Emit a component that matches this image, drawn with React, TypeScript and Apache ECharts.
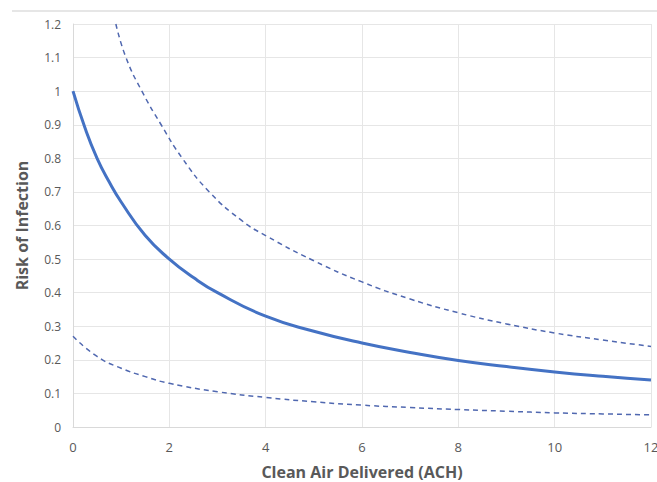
import React, { useEffect, useRef } from "react";
import * as echarts from "echarts";

const xName = "Clean Air Delivered (ACH)";
const yName = "Risk of Infection";

const mainX = [0, 0.25, 0.5, 0.75, 1, 1.5, 2, 2.5, 3, 4, 5, 6, 7, 8, 9, 10, 11, 12];
const mainY = [1.0, 0.89, 0.8, 0.73, 0.67, 0.57, 0.5, 0.445, 0.4, 0.33, 0.285, 0.25, 0.222, 0.198, 0.18, 0.164, 0.151, 0.14];

const upperX = [0.89, 1.1, 1.43, 1.83, 2.27, 2.83, 3.5, 4, 5, 6, 7, 8, 9, 10, 11, 12];
const upperY = [1.2, 1.1, 1.0, 0.9, 0.8, 0.7, 0.615, 0.57, 0.495, 0.432, 0.381, 0.34, 0.307, 0.28, 0.259, 0.24];

const lowerX = [0, 0.5, 1, 1.5, 2, 3, 4, 5, 6, 7, 8, 9, 10, 11, 12];
const lowerY = [0.27, 0.21, 0.175, 0.15, 0.13, 0.105, 0.088, 0.075, 0.065, 0.058, 0.052, 0.047, 0.042, 0.039, 0.036];

const pairs = (xs: number[], ys: number[]) => xs.map((x, i) => [x, ys[i]]);

export default function App() {
  const ref = useRef<HTMLDivElement>(null);
  useEffect(() => {
    if (!ref.current) return;
    const chart = echarts.init(ref.current, null, { renderer: "svg" });
    const font = "'Open Sans', 'Noto Sans', sans-serif";
    chart.setOption({
      animation: false,
      backgroundColor: "#ffffff",
      textStyle: { fontFamily: font },
      graphic: [
        {
          type: "line",
          shape: { x1: 12, y1: 11, x2: 657, y2: 11 },
          style: { stroke: "#e6e6e6", lineWidth: 2 },
        },
      ],
      grid: { left: 73, right: 6, top: 24, bottom: 55, containLabel: false, outerBoundsMode: "none" },
      xAxis: {
        type: "value",
        min: 0,
        max: 12,
        interval: 2,
        name: xName,
        nameLocation: "middle",
        nameGap: 37,
        nameTextStyle: { fontSize: 16, fontWeight: "bold", color: "#595959", fontFamily: font },
        axisLine: { show: true, lineStyle: { color: "#d9d9d9", width: 1 } },
        axisTick: { show: false },
        axisLabel: { color: "#595959", fontSize: 13, margin: 13, fontFamily: font },
        splitLine: { show: true, lineStyle: { color: "#e6e6e6", width: 1 } },
      },
      yAxis: {
        type: "value",
        min: 0,
        max: 1.2,
        interval: 0.1,
        name: yName,
        nameLocation: "middle",
        nameGap: 43,
        nameTextStyle: { fontSize: 16, fontWeight: "bold", color: "#595959", fontFamily: font },
        axisLine: { show: true, lineStyle: { color: "#d9d9d9", width: 1 } },
        axisTick: { show: false },
        axisLabel: {
          color: "#595959",
          fontSize: 12,
          margin: 12,
          fontFamily: font,
          formatter: (v: number) => String(parseFloat(v.toFixed(1))),
        },
        splitLine: { show: true, lineStyle: { color: "#e6e6e6", width: 1 } },
      },
      series: [
        {
          type: "line",
          data: pairs(mainX, mainY),
          smooth: 0.5,
          showSymbol: false,
          lineStyle: { color: "#4472c4", width: 3 },
        },
        {
          type: "line",
          data: pairs(upperX, upperY),
          smooth: 0.5,
          showSymbol: false,
          lineStyle: { color: "#5068b0", width: 1.5, type: [5, 4] },
        },
        {
          type: "line",
          data: pairs(lowerX, lowerY),
          smooth: 0.5,
          showSymbol: false,
          lineStyle: { color: "#5068b0", width: 1.5, type: [5, 4] },
        },
      ],
    });
    return () => chart.dispose();
  }, []);
  return <div ref={ref} style={{ width: 657, height: 482, position: "absolute", left: 0, top: 0 }} />;
}
